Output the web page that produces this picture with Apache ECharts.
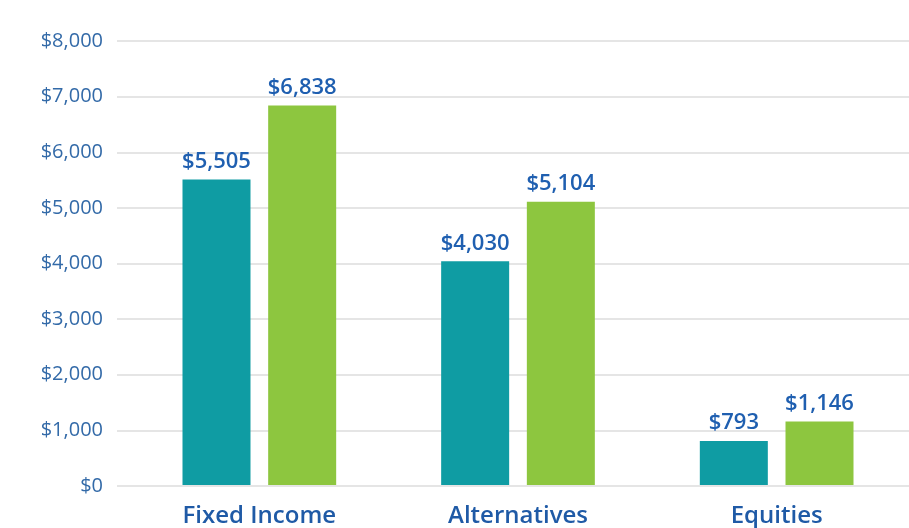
<!DOCTYPE html>
<html>
<head>
<meta charset="utf-8">
<script src="https://cdn.jsdelivr.net/npm/echarts@6/dist/echarts.min.js"></script>
<style>
  html, body { margin: 0; padding: 0; background: #fff; }
  #main { width: 909px; height: 528px; }
</style>
</head>
<body>
<div id="main"></div>
<script>
// 数据
var categories = ['Fixed Income', 'Alternatives', 'Equities'];
var tealValues = [5505, 4030, 793];
var greenValues = [6838, 5104, 1146];
var yTicks = [0, 1000, 2000, 3000, 4000, 5000, 6000, 7000, 8000];

var colors = ['#0f9ca3', '#8dc63f'];
var fontName = 'Open Sans';

function money(v) {
  return '$' + Number(v).toLocaleString('en-US');
}

var labelStyle = {
  show: true,
  position: 'top',
  distance: 7,
  color: '#1f5fb0',
  fontFamily: fontName,
  fontWeight: 600,
  fontSize: 22,
  formatter: function (p) { return money(p.value); }
};

var myChart = echarts.init(document.getElementById('main'));
myChart.setOption({
  animation: false,
  grid: [
    // 网格线
    { left: 117, right: 0, top: 41, bottom: 42 },
    // 柱子
    { left: 130, right: 3, top: 41, bottom: 42 }
  ],
  xAxis: [
    { gridIndex: 0, type: 'value', show: false, min: 0, max: 1 },
    {
      gridIndex: 1,
      type: 'category',
      data: categories,
      axisLine: { show: false },
      axisTick: { show: false },
      axisLabel: {
        margin: 19,
        color: '#1f5aa6',
        fontFamily: fontName,
        fontWeight: 600,
        fontSize: 24
      }
    }
  ],
  yAxis: [
    {
      gridIndex: 0,
      type: 'value',
      min: yTicks[0],
      max: yTicks[yTicks.length - 1],
      interval: 1000,
      axisLine: { show: false },
      axisTick: { show: false },
      splitLine: { lineStyle: { color: '#dcdcdc', width: 1.5 } },
      axisLabel: {
        margin: 14,
        color: '#336aa8',
        fontFamily: fontName,
        fontSize: 20,
        formatter: money
      }
    },
    {
      gridIndex: 1,
      type: 'value',
      min: yTicks[0],
      max: yTicks[yTicks.length - 1],
      show: false,
      splitLine: { show: false }
    }
  ],
  series: [
    {
      type: 'bar',
      xAxisIndex: 1,
      yAxisIndex: 1,
      data: tealValues,
      barWidth: 68,
      barGap: '26%',
      itemStyle: { color: colors[0] },
      label: labelStyle
    },
    {
      type: 'bar',
      xAxisIndex: 1,
      yAxisIndex: 1,
      data: greenValues,
      barWidth: 68,
      barGap: '26%',
      itemStyle: { color: colors[1] },
      label: labelStyle
    }
  ]
});
</script>
</body>
</html>
